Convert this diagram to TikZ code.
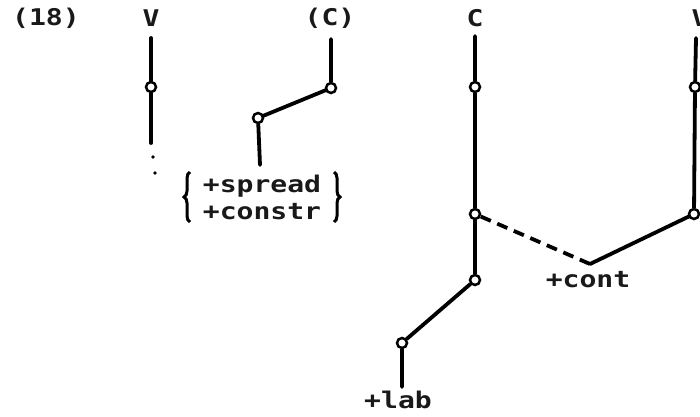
\documentclass[tikz,border=0pt]{standalone}
\usepackage{fontspec}
\newfontfamily\dotfont{DejaVu Sans Mono}[BoldFont={* Bold}]
\usetikzlibrary{decorations.pathreplacing}
\begin{document}
\begin{tikzpicture}[x=1pt,y=-1pt,
  br/.style={line width=3.8pt,line cap=round},
  dsh/.style={line width=3.8pt,dash pattern=on 11pt off 7pt},
  jn/.style={circle,draw,fill=white,line width=2.5pt,minimum size=10pt,inner sep=0pt},
  lbl/.style={font=\dotfont\bfseries\fontsize{23}{27}\selectfont,xscale=1.22,text=black!90,inner sep=0pt},
  brc/.style={line width=3pt,decorate,decoration={brace,amplitude=6pt}}]
\useasboundingbox (0,0) rectangle (700,416);
\clip (0,0) rectangle (700,416);
% labels at top
\node[lbl] (n18) at (46,18) {(18)};
\node[lbl] (tv1) at (151,18) {V};
\node[lbl] (tc1) at (330,18) {(C)};
\node[lbl] (tc2) at (475,18) {C};
\node[lbl] (tv2) at (700,18) {V};
% V tree
\coordinate (v1top) at (151,38);
\node[jn] (v1a) at (151,87) {};
\coordinate (v1bot) at (151,143);
\draw[br] (v1top) -- (v1a) -- (v1bot);
\fill (153,157) circle (1.8pt);
\fill (155,173) circle (1.8pt);
% (C) tree
\coordinate (c1top) at (331,39);
\node[jn] (c1a) at (331,88) {};
\node[jn] (c1b) at (258,118) {};
\coordinate (c1bot) at (260,165);
\draw[br] (c1top) -- (c1a) -- (c1b) -- (c1bot);
\node[lbl,align=left] (feat) at (262,197) {+spread\\+constr};
\draw[brc] (190,222) -- (190,172);
\draw[brc] (334,172) -- (334,222);
% C tree
\coordinate (c2top) at (475,36);
\node[jn] (c2a) at (475,87) {};
\node[jn] (c2b) at (475,214) {};
\node[jn] (c2c) at (475,280) {};
\node[jn] (c2d) at (402,343) {};
\coordinate (c2bot) at (402,387);
\draw[br] (c2top) -- (c2a) -- (c2b) -- (c2c) -- (c2d) -- (c2bot);
\node[lbl] (lab) at (398,400) {+lab};
% right V tree
\coordinate (v2top) at (696,38);
\node[jn] (v2a) at (695,87) {};
\node[jn] (v2b) at (694,214) {};
\draw[br] (v2top) -- (v2a) -- (v2b);
% cont
\coordinate (cv) at (590,264);
\draw[dsh] (c2b) -- (cv);
\draw[br] (cv) -- (v2b);
\node[lbl] (cont) at (588,280) {+cont};
\end{tikzpicture}
\end{document}
